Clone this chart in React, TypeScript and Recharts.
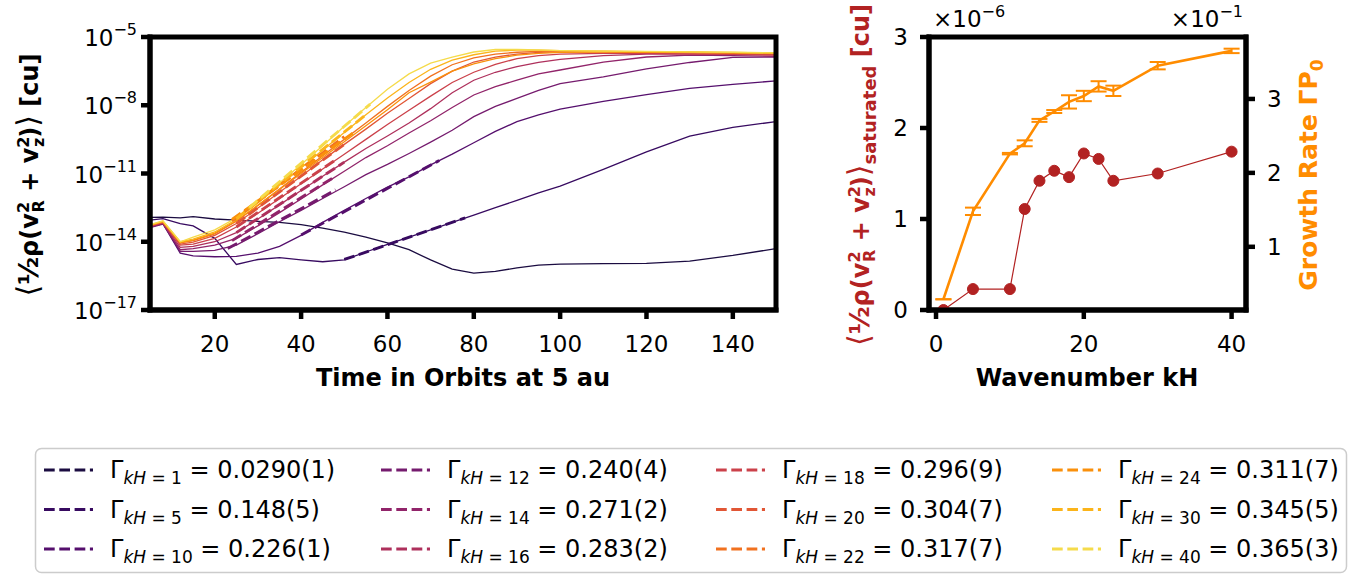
import React from "react";
import { LineChart, ComposedChart, Line, XAxis, YAxis, ErrorBar } from "recharts";

const kH = [1, 5, 10, 12, 14, 16, 18, 20, 22, 24, 30, 40];
const colors = ["#1b0c41", "#370a60", "#550f6d", "#751b6e", "#91246a", "#ae305c", "#cb414a", "#e15635", "#f1711f", "#fa900b", "#fbb41a", "#f5db4b"];
const gamma = [0.029, 0.148, 0.226, 0.24, 0.271, 0.283, 0.296, 0.304, 0.317, 0.311, 0.345, 0.365];
const gammaErr = [0.0001, 0.005, 0.001, 0.004, 0.002, 0.002, 0.009, 0.007, 0.007, 0.007, 0.005, 0.003];
const gammaText = ["0.0290(1)", "0.148(5)", "0.226(1)", "0.240(4)", "0.271(2)", "0.283(2)", "0.296(9)", "0.304(7)", "0.317(7)", "0.311(7)", "0.345(5)", "0.365(3)"];
// saturated energy, units of 1e-6
const satE = [0, 0.23, 0.23, 1.11, 1.42, 1.53, 1.46, 1.72, 1.66, 1.42, 1.5, 1.74];

// time in orbits
const times = [5, 8, 12, 15, 20, 25, 30, 35, 40, 45, 50, 55, 60, 65, 70, 75, 80, 85, 90, 95, 100, 110, 120, 130, 140, 150];

// log10 of the energy
const e1 = [-12.93, -12.92, -12.95, -12.9, -13.0, -13.05, -13.1, -13.15, -13.25, -13.4, -13.58, -13.8, -14.05, -14.35, -14.8, -15.2, -15.38, -15.3, -15.15, -15.03, -14.98, -14.96, -14.95, -14.85, -14.6, -14.3];
const e5 = [-13.05, -12.98, -13.2, -13.3, -13.85, -15.0, -14.78, -14.7, -14.8, -14.88, -14.8, -14.45, -14.12, -13.8, -13.48, -13.15, -12.83, -12.5, -12.18, -11.85, -11.55, -10.82, -10.05, -9.36, -8.97, -8.72];
const e10 = [-13.35, -13.2, -14.5, -14.62, -14.66, -14.64, -14.5, -14.2, -13.72, -13.15, -12.62, -12.1, -11.6, -11.15, -10.62, -10.15, -9.65, -9.15, -8.72, -8.42, -8.17, -7.83, -7.53, -7.26, -7.08, -6.93];
const e12 = [-13.38, -13.22, -14.42, -14.42, -14.38, -14.15, -13.65, -13.12, -12.62, -12.1, -11.58, -11.05, -10.6, -10.12, -9.62, -9.1, -8.5, -8.05, -7.7, -7.35, -7.05, -6.75, -6.4, -6.12, -5.9, -5.88];
const e14 = [-13.35, -13.2, -14.35, -14.3, -14.15, -13.85, -13.3, -12.72, -12.12, -11.5, -10.9, -10.3, -9.78, -9.22, -8.68, -8.1, -7.55, -7.18, -6.9, -6.62, -6.45, -6.1, -5.88, -5.8, -5.82, -5.85];
const e16 = [-13.32, -13.18, -14.25, -14.2, -14.0, -13.6, -13.0, -12.38, -11.75, -11.12, -10.5, -9.9, -9.35, -8.78, -8.15, -7.45, -6.9, -6.55, -6.3, -6.12, -5.98, -5.82, -5.75, -5.75, -5.76, -5.78];
const e18 = [-13.3, -13.15, -14.15, -14.1, -13.85, -13.35, -12.75, -12.1, -11.45, -10.8, -10.15, -9.5, -8.85, -8.22, -7.6, -7.0, -6.55, -6.2, -5.95, -5.82, -5.75, -5.72, -5.72, -5.74, -5.76, -5.8];
const e20 = [-13.3, -13.15, -14.1, -14.02, -13.72, -13.2, -12.52, -11.82, -11.12, -10.4, -9.72, -9.05, -8.35, -7.7, -7.05, -6.5, -6.1, -5.88, -5.75, -5.68, -5.65, -5.65, -5.68, -5.7, -5.72, -5.75];
const e22 = [-13.28, -13.12, -14.05, -13.95, -13.65, -13.1, -12.4, -11.68, -10.95, -10.22, -9.5, -8.78, -8.05, -7.35, -6.72, -6.22, -5.92, -5.75, -5.67, -5.63, -5.62, -5.63, -5.65, -5.67, -5.7, -5.72];
const e24 = [-13.27, -13.12, -14.03, -13.93, -13.62, -13.08, -12.4, -11.7, -11.0, -10.3, -9.6, -8.9, -8.2, -7.45, -6.98, -6.5, -6.18, -5.95, -5.8, -5.72, -5.68, -5.66, -5.67, -5.68, -5.7, -5.72];
const e30 = [-13.26, -13.1, -14.0, -13.88, -13.57, -13.02, -12.3, -11.52, -10.75, -9.97, -9.2, -8.42, -7.68, -7.0, -6.42, -6.02, -5.78, -5.62, -5.58, -5.58, -5.6, -5.62, -5.64, -5.66, -5.68, -5.7];
const e40 = [-13.25, -13.08, -14.0, -13.8, -13.48, -12.95, -12.22, -11.42, -10.6, -9.78, -8.92, -8.1, -7.3, -6.62, -6.15, -5.88, -5.66, -5.55, -5.55, -5.57, -5.6, -5.62, -5.63, -5.65, -5.67, -5.7];
const curves = [e1, e5, e10, e12, e14, e16, e18, e20, e22, e24, e30, e40];

// exponential fits (dashed): start/end time and log10 energy; none drawn for kH=1
const fitT0 = [null, 50, 40, 23, 24, 25, 25, 25, 24, 24, 25, 28];
const fitT1 = [null, 78, 72, 48, 48, 50, 48, 50, 50, 52, 55, 56];
const fitE0 = [null, -14.78, -13.7, -14.3, -13.95, -13.6, -13.35, -13.2, -13.08, -13.02, -12.98, -12.5];
const fitE1 = [null, -12.95, -10.43, -11.72, -11.12, -10.5, -10.4, -9.72, -9.38, -9.22, -8.42, -7.95];

const timeRows = times.map((t, i) => {
  const row: any = { t };
  kH.forEach((k, j) => { row["k" + k] = Math.pow(10, curves[j][i]); });
  return row;
});

const rightRows = kH.map((k, i) => ({ k, e: satE[i] * 1e-6, g: gamma[i], gErr: gammaErr[i] }));

const FONT = "DejaVu Sans";
const frame = { stroke: "#000", strokeWidth: 5, strokeLinecap: "square" as const };
const tickLn = { stroke: "#000", strokeWidth: 4.5 };
const tickTxt = { fontSize: 23, fill: "#000", fontFamily: FONT };

function LogTick(props: any) {
  const { x, y, payload } = props;
  const p = Math.round(Math.log10(payload.value));
  return (
    <text x={x} y={y + 9} textAnchor="end" fontSize={23} fill="#000" fontFamily={FONT}>
      10<tspan dy={-11} fontSize={16}>{"\u2212" + -p}</tspan>
    </text>
  );
}

function EnergyLabel({ x, y, color, sat }: any) {
  return (
    <text transform="rotate(-90)" x={-y} y={x} textAnchor="middle" fontSize={24} fontWeight="bold" fill={color} fontFamily={FONT}>
      <tspan fontSize={30} fontWeight="normal">{"\u27E8"}</tspan>
      <tspan fontSize={27}>{"\u00BD"}</tspan>
      <tspan>{"\u03C1(v"}</tspan>
      <tspan dy={-9} fontSize={16}>2</tspan>
      <tspan dx={-10.5} dy={15} fontSize={16}>R</tspan>
      <tspan dy={-6}>{" + v"}</tspan>
      <tspan dy={-9} fontSize={16}>2</tspan>
      <tspan dx={-10.5} dy={15} fontSize={16}>z</tspan>
      <tspan dy={-6}>{")"}</tspan>
      <tspan fontSize={30} fontWeight="normal">{"\u27E9"}</tspan>
      {sat ? <tspan dy={7} fontSize={18}>saturated</tspan> : null}
      <tspan dy={sat ? -7 : 0}>{" [cu]"}</tspan>
    </text>
  );
}

const legendCols = [44, 381, 716, 1052];
const legendRows = [470, 509.5, 549];

export default function App() {
  return (
    <div style={{ position: "absolute", left: 0, top: 0, width: 1354, height: 576, background: "#fff", fontFamily: FONT }}>
      <div style={{ position: "absolute", left: 0, top: 0 }}>
        <LineChart width={800} height={420} margin={{ top: 37, right: 24, bottom: 0, left: 0 }}>
          <XAxis xAxisId="b" dataKey="t" type="number" domain={[5, 150]} ticks={[20, 40, 60, 80, 100, 120, 140]} interval={0}
            height={110} axisLine={frame} tickLine={tickLn} tickSize={9} tickMargin={17} tick={tickTxt} allowDataOverflow />
          <XAxis xAxisId="top" orientation="top" type="number" domain={[5, 150]} height={0} tick={false} tickLine={false} axisLine={frame} />
          <YAxis yAxisId="l" scale="log" type="number" domain={[1e-17, 1e-5]} ticks={[1e-17, 1e-14, 1e-11, 1e-8, 1e-5]} interval={0}
            width={150} axisLine={frame} tickLine={tickLn} tickSize={9} tickMargin={4} tick={<LogTick />} allowDataOverflow />
          <YAxis yAxisId="r" orientation="right" type="number" domain={[0, 1]} width={0} tick={false} tickLine={false} axisLine={frame} />
          {kH.map((k, j) => (
            <Line key={"s" + k} xAxisId="b" yAxisId="l" data={timeRows} dataKey={"k" + k} stroke={colors[j]} strokeWidth={1.3}
              dot={false} isAnimationActive={false} />
          ))}
          {kH.map((k, j) =>
            fitT0[j] === null ? null : (
              <Line key={"f" + k} xAxisId="b" yAxisId="l"
                data={[{ t: fitT0[j], v: Math.pow(10, fitE0[j] as number) }, { t: fitT1[j], v: Math.pow(10, fitE1[j] as number) }]}
                dataKey="v" stroke={colors[j]} strokeWidth={2.9} strokeDasharray="10.7 4.6" dot={false} isAnimationActive={false} />
            )
          )}
        </LineChart>
      </div>

      <div style={{ position: "absolute", left: 800, top: 0 }}>
        <ComposedChart width={554} height={420} data={rightRows} margin={{ top: 37, right: 0, bottom: 0, left: 0 }}>
          <XAxis xAxisId="b" dataKey="k" type="number" domain={[-0.95, 41.95]} ticks={[0, 20, 40]} interval={0}
            height={110} axisLine={frame} tickLine={tickLn} tickSize={9} tickMargin={17} tick={tickTxt} allowDataOverflow />
          <XAxis xAxisId="top" orientation="top" type="number" domain={[-0.95, 41.95]} height={0} tick={false} tickLine={false} axisLine={frame} />
          <YAxis yAxisId="e" type="number" domain={[0, 3e-6]} ticks={[0, 1e-6, 2e-6, 3e-6]} interval={0} width={129}
            tickFormatter={(v: number) => String(Math.round(v * 1e6))} axisLine={frame} tickLine={tickLn} tickSize={9} tickMargin={12} tick={tickTxt} allowDataOverflow />
          <YAxis yAxisId="g" orientation="right" type="number" domain={[0.0145, 0.3838]} ticks={[0.1, 0.2, 0.3]} interval={0} width={108}
            tickFormatter={(v: number) => String(Math.round(v * 10))} axisLine={frame} tickLine={tickLn} tickSize={9} tickMargin={12} tick={tickTxt} allowDataOverflow />
          <Line xAxisId="b" yAxisId="e" dataKey="e" stroke="#b22222" strokeWidth={1.2}
            dot={{ r: 5.5, fill: "#b22222", stroke: "#b22222", strokeWidth: 1 }} isAnimationActive={false} />
          <Line xAxisId="b" yAxisId="g" dataKey="g" stroke="#ff8c00" strokeWidth={2.6} dot={false} isAnimationActive={false}>
            <ErrorBar dataKey="gErr" width={8} strokeWidth={2} stroke="#ff8c00" direction="y" />
          </Line>
        </ComposedChart>
      </div>

      <svg width={1354} height={576} style={{ position: "absolute", left: 0, top: 0, pointerEvents: "none" }}>
        <rect x={150} y={37} width={626} height={273} fill="none" stroke="#000" strokeWidth={5} />
        <rect x={929} y={37} width={317} height={273} fill="none" stroke="#000" strokeWidth={5} />
        <EnergyLabel x={38} y={175} color="#000" sat={false} />
        <EnergyLabel x={869} y={175} color="#b22222" sat={true} />
        <text transform="rotate(-90)" x={-175} y={1317} textAnchor="middle" fontSize={25} fontWeight="bold" fill="#ff8c00" fontFamily={FONT}>
          {"Growth Rate \u0393P"}<tspan dy={6} fontSize={17}>0</tspan>
        </text>
        <text x={463} y={386} textAnchor="middle" fontSize={24} fontWeight="bold" fontFamily={FONT}>Time in Orbits at 5 au</text>
        <text x={1087} y={386} textAnchor="middle" fontSize={24} fontWeight="bold" fontFamily={FONT}>Wavenumber kH</text>
        <text x={933} y={27} fontSize={23} fontFamily={FONT}>{"\u00D710"}<tspan dy={-10} fontSize={16}>{"\u22126"}</tspan></text>
        <text x={1243} y={27} textAnchor="end" fontSize={23} fontFamily={FONT}>{"\u00D710"}<tspan dy={-10} fontSize={16}>{"\u22121"}</tspan></text>

        <rect x={35.5} y={448.5} width={1311} height={124} rx={6} fill="#fff" stroke="#cccccc" strokeWidth={1.5} />
        {kH.map((k, j) => {
          const cx = legendCols[Math.floor(j / 3)];
          const cy = legendRows[j % 3];
          return (
            <g key={"lg" + k}>
              <line x1={cx} y1={cy} x2={cx + 49} y2={cy} stroke={colors[j]} strokeWidth={2.9} strokeDasharray="10.7 4.6" />
              <text x={cx + 66} y={cy + 8} fontSize={24} fill="#000" fontFamily={FONT}>
                <tspan>{"\u0393"}</tspan>
                <tspan dy={6} fontSize={17} fontStyle="italic">kH</tspan>
                <tspan fontSize={17}>{" = " + k}</tspan>
                <tspan dy={-6}>{" = " + gammaText[j]}</tspan>
              </text>
            </g>
          );
        })}
      </svg>
    </div>
  );
}
